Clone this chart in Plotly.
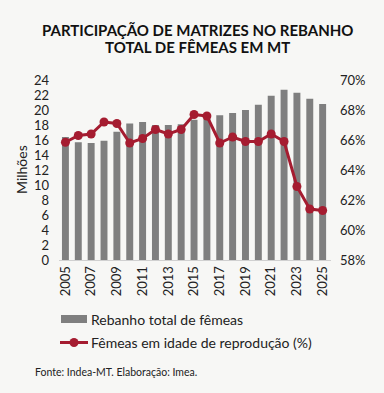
import plotly.graph_objects as go

years = list(range(2005, 2026))
rebanho = [16.4, 15.7, 15.6, 15.9, 17.1, 18.2, 18.4, 18.0, 18.0, 18.1, 18.7,
           18.9, 19.3, 19.6, 20.0, 20.7, 21.9, 22.7, 22.3, 21.5, 20.8]
femeas_pct = [65.85, 66.3, 66.4, 67.2, 67.1, 65.8, 66.1, 66.7, 66.4, 66.7, 67.7,
              67.6, 65.8, 66.2, 65.9, 65.9, 66.4, 65.9, 62.9, 61.4, 61.3]
left_ticks = list(range(0, 26, 2))
right_ticks = list(range(58, 72, 2))
series_names = ["Rebanho total de fêmeas", "Fêmeas em idade de reprodução (%)"]

FONT = "Lato"
BAR_C = "#7f7f7f"
LINE_C = "#a51c30"
W, H = 384, 393
L, R, T, B = 59, 53, 80, 133
PW, PH = W - L - R, H - T - B


def px(x):
    return (x - L) / PW


def py(y):
    return (H - B - y) / PH


fig = go.Figure()
fig.add_trace(go.Bar(x=years, y=rebanho, name=series_names[0],
                     marker_color=BAR_C, marker_line_width=0))
fig.add_trace(go.Scatter(x=years, y=femeas_pct, name=series_names[1],
                         yaxis="y2", mode="lines+markers",
                         line=dict(color=LINE_C, width=3),
                         marker=dict(color=LINE_C, size=9)))

shapes = [
    dict(type="rect", xref="paper", yref="paper", x0=px(61), x1=px(87), y0=py(323), y1=py(315),
         fillcolor=BAR_C, line_width=0),
    dict(type="line", xref="paper", yref="paper", x0=px(60), x1=px(88), y0=py(342.5), y1=py(342.5),
         line=dict(color=LINE_C, width=3)),
    dict(type="circle", xref="paper", yref="paper", x0=px(69.5), x1=px(78.5), y0=py(347), y1=py(338),
         fillcolor=LINE_C, line_width=0),
]

annotations = [
    dict(text=series_names[0], xref="paper", yref="paper", x=px(89), y=py(319.5),
         xanchor="left", yanchor="middle", showarrow=False, font=dict(size=14, color="#222222")),
    dict(text=series_names[1], xref="paper", yref="paper", x=px(89), y=py(342.5),
         xanchor="left", yanchor="middle", showarrow=False, font=dict(size=14, color="#222222")),
    dict(text="Milhões", xref="paper", yref="paper", x=px(21), y=py(170), textangle=-90,
         xanchor="center", yanchor="middle", showarrow=False, font=dict(size=14, color="#222222")),
    dict(text="Fonte: Indea-MT. Elaboração: Imea.", xref="paper", yref="paper",
         x=px(33), y=py(372), xanchor="left", yanchor="middle", showarrow=False,
         font=dict(size=10.5, color="#222222")),
    dict(text="<b>PARTICIPAÇÃO DE MATRIZES NO REBANHO</b>", xref="paper", yref="paper",
         x=px(197), y=py(30), xanchor="center", yanchor="middle", showarrow=False,
         font=dict(family=FONT, size=15, color="#111111")),
    dict(text="<b>TOTAL DE FÊMEAS EM MT</b>", xref="paper", yref="paper",
         x=px(197), y=py(47.5), xanchor="center", yanchor="middle", showarrow=False,
         font=dict(family=FONT, size=15, color="#111111")),
]

fig.update_layout(
    width=W, height=H,
    paper_bgcolor="#f7f7f5", plot_bgcolor="#f7f7f5",
    margin=dict(l=L, r=R, t=T, b=B, autoexpand=False),
    font=dict(family=FONT, color="#222222", size=13),
    bargap=0.46,
    showlegend=False,
    xaxis=dict(tickmode="array", tickvals=years[::2], ticktext=[str(y) for y in years[::2]],
               tickangle=-90, showgrid=False, showline=True, linecolor="#d0d0d0",
               linewidth=1, range=[2004.5, 2025.65], ticks="", tickfont=dict(size=13),
               automargin=False),
    yaxis=dict(range=[0, 24], tickvals=left_ticks, showgrid=False, zeroline=False,
               tickfont=dict(size=13), ticks="", automargin=False, ticklabelstandoff=9),
    yaxis2=dict(range=[58, 70], tickvals=right_ticks,
                ticktext=[f"{v}%" for v in right_ticks], overlaying="y", side="right",
                showgrid=False, zeroline=False, tickfont=dict(size=13), ticks="",
                automargin=False, ticklabelstandoff=8),
    shapes=shapes,
    annotations=annotations,
)
fig.write_html("out.html", config={"displayModeBar": False},
               post_script="document.body.style.margin='0';")
